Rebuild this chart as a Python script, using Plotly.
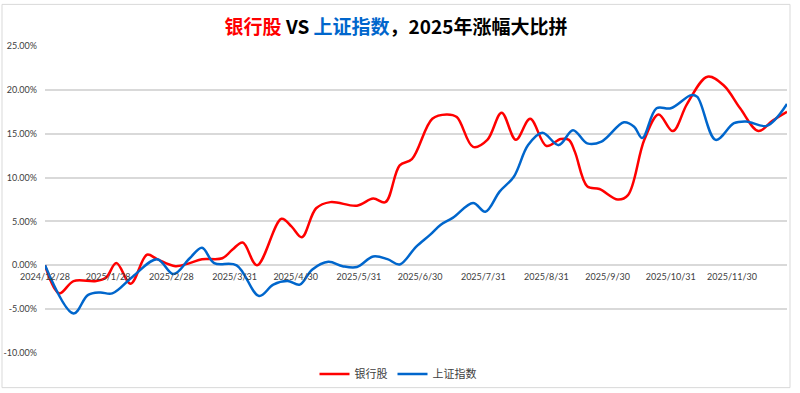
import plotly.graph_objects as go

# ---- data (cumulative change, %) ----
bank_dates = ["2024-12-28","2025-01-04","2025-01-11","2025-01-22","2025-01-27","2025-02-01","2025-02-08",
              "2025-02-16","2025-02-21","2025-03-02","2025-03-09","2025-03-15","2025-03-25","2025-03-30",
              "2025-04-04","2025-04-11","2025-04-23","2025-04-28","2025-05-03","2025-05-10","2025-05-17",
              "2025-05-30","2025-06-07","2025-06-13","2025-06-20","2025-06-26","2025-07-06","2025-07-13",
              "2025-07-18","2025-07-26","2025-08-02","2025-08-09","2025-08-16","2025-08-23","2025-08-31",
              "2025-09-07","2025-09-11","2025-09-14","2025-09-20","2025-09-26","2025-10-05","2025-10-10",
              "2025-10-18","2025-10-25","2025-11-01","2025-11-08","2025-11-18","2025-11-26","2025-12-04",
              "2025-12-13","2025-12-20","2025-12-27"]
bank_values = [0, -3.2, -1.8, -1.8, -1.4, 0.25, -2.1, 1.2, 0.7, -0.1, 0.25, 0.7, 0.8, 1.8, 2.6,
               0.0, 5.3, 4.4, 3.2, 6.5, 7.2, 6.8, 7.6, 7.2, 11.4, 12.1, 16.7, 17.2, 16.9, 13.5,
               14.3, 17.4, 14.3, 16.7, 13.6, 14.4, 14.3, 12.9, 9.0, 8.7, 7.5, 8.0, 14.3, 17.2,
               15.3, 18.4, 21.5, 20.5, 17.9, 15.3, 16.5, 17.5]

sh_dates = ["2024-12-28","2025-01-11","2025-01-18","2025-01-24","2025-01-30","2025-02-09","2025-02-21",
            "2025-03-01","2025-03-09","2025-03-15","2025-03-21","2025-04-01","2025-04-12","2025-04-19",
            "2025-04-26","2025-05-02","2025-05-08","2025-05-16","2025-05-23","2025-05-30","2025-06-07",
            "2025-06-14","2025-06-20","2025-06-28","2025-07-05","2025-07-10","2025-07-16","2025-07-26",
            "2025-08-01","2025-08-08","2025-08-15","2025-08-22","2025-08-29","2025-09-06","2025-09-13",
            "2025-09-20","2025-09-27","2025-10-08","2025-10-13","2025-10-17","2025-10-24","2025-10-31",
            "2025-11-10","2025-11-13","2025-11-22","2025-12-01","2025-12-07","2025-12-17","2025-12-27"]
sh_values = [0, -5.5, -3.4, -3.1, -3.2, -1.3, 0.7, -1.0, 0.8, 2.0, 0.25, 0.0, -3.5, -2.2, -1.8,
             -2.2, -0.5, 0.4, -0.1, -0.2, 1.0, 0.7, 0.1, 2.1, 3.5, 4.6, 5.4, 7.1, 6.1, 8.4,
             10.1, 13.7, 15.1, 13.7, 15.4, 13.9, 14.1, 16.3, 15.8, 14.5, 17.9, 17.9, 19.4, 19.2,
             14.3, 16.2, 16.4, 15.9, 18.4]

x_tick_vals = ["2024-12-28","2025-01-28","2025-02-28","2025-03-31","2025-04-30","2025-05-31",
               "2025-06-30","2025-07-31","2025-08-31","2025-09-30","2025-10-31","2025-11-30"]
x_tick_text = ["2024/12/28","2025/1/28","2025/2/28","2025/3/31","2025/4/30","2025/5/31",
               "2025/6/30","2025/7/31","2025/8/31","2025/9/30","2025/10/31","2025/11/30"]
y_tick_vals = [-10, -5, 0, 5, 10, 15, 20, 25]
y_tick_text = ["-10.00%", "-5.00%", "0.00%", "5.00%", "10.00%", "15.00%", "20.00%", "25.00%"]

RED = "#FF0000"
BLUE = "#0066CC"

fig = go.Figure()
fig.add_trace(go.Scatter(x=bank_dates, y=bank_values, mode="lines", name="银行股",
                         line=dict(color=RED, width=2.5, shape="spline", smoothing=1.0)))
fig.add_trace(go.Scatter(x=sh_dates, y=sh_values, mode="lines", name="上证指数",
                         line=dict(color=BLUE, width=2.5, shape="spline", smoothing=1.0)))

W, H = 800, 393
ml, mr, mt, mb = 45, 13, 45.7, 39.7
plot_h = H - mt - mb

fig.update_layout(
    width=W, height=H,
    margin=dict(l=ml, r=mr, t=mt, b=mb, pad=0, autoexpand=False),
    paper_bgcolor="white", plot_bgcolor="white",
    font=dict(family="Noto Sans CJK SC, Noto Sans, sans-serif", color="#595959"),
    title=dict(
        text=("<b><span style='color:#FF0000'>银行股</span> VS "
              "<span style='color:#0066CC'>上证指数</span>，2025年涨幅大比拼</b>"),
        x=396 / W, xanchor="center", xref="container",
        y=1 - 27 / H, yanchor="middle", yref="container",
        font=dict(size=19, color="#000000", family="Noto Sans CJK SC, sans-serif"),
    ),
    showlegend=True,
    legend=dict(orientation="h", x=398 / W, xanchor="center", xref="container",
                y=1 - 374 / H, yanchor="middle", yref="container",
                font=dict(size=11, color="#404040"), itemwidth=30,
                bgcolor="rgba(0,0,0,0)"),
    xaxis=dict(
        type="date", range=["2024-12-28", "2025-12-27"],
        tickvals=x_tick_vals, ticktext=x_tick_text,
        tickfont=dict(size=9, color="#404040", family="Lato, sans-serif"),
        showgrid=False, showline=False, zeroline=False, ticks="",
        anchor="free", position=10 / 35, ticklabelstandoff=5, automargin=False,
    ),
    yaxis=dict(
        range=[-10, 25], tickvals=y_tick_vals, ticktext=y_tick_text,
        tickfont=dict(size=9, color="#404040", family="Lato, sans-serif"),
        showgrid=True, gridcolor="#D9D9D9", gridwidth=1.5,
        zeroline=False, showline=False, ticks="", ticklabelstandoff=7, automargin=False,
    ),
    hovermode=False,
)

# chart-area border
fig.add_shape(type="rect", xref="paper", yref="paper",
              x0=(2 - ml) / (W - ml - mr), x1=(790 - ml) / (W - ml - mr),
              y0=((H - mb) - 388) / plot_h, y1=((H - mb) - 4) / plot_h,
              line=dict(color="#D9D9D9", width=1), fillcolor="rgba(0,0,0,0)", layer="below")

fig.write_html("out.html", config={"displayModeBar": False},
               post_script="document.body.style.margin='0px';")
